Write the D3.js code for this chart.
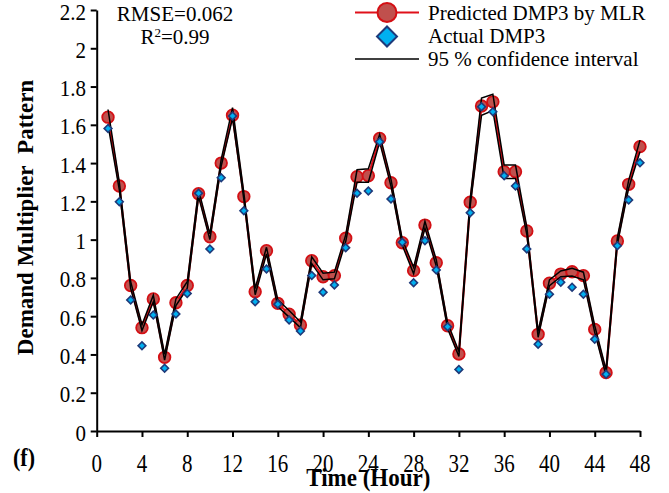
<!DOCTYPE html>
<html>
<head>
<meta charset="utf-8">
<script src="https://cdn.jsdelivr.net/npm/d3@7"></script>
<style>
  html, body { margin: 0; padding: 0; background: #fff; }
  svg { display: block; }
  text { font-family: "Liberation Serif", "Times New Roman", serif; fill: #000; }
</style>
</head>
<body>
<svg id="chart" width="669" height="493"></svg>
<script>
// ---- data ----
const hours = d3.range(1, 49);
const predicted = [1.64, 1.28, 0.76, 0.54, 0.69, 0.385, 0.67, 0.76, 1.24, 1.015, 1.40, 1.65,
  1.225, 0.728, 0.942, 0.667, 0.61, 0.554, 0.89, 0.806, 0.812, 1.007, 1.329, 1.334,
  1.529, 1.297, 0.984, 0.838, 1.076, 0.879, 0.55, 0.402, 1.195, 1.698, 1.72, 1.355,
  1.355, 1.045, 0.505, 0.772, 0.82, 0.832, 0.812, 0.531, 0.305, 0.993, 1.289, 1.486];
const actual = [1.581, 1.198, 0.684, 0.446, 0.606, 0.328, 0.611, 0.719, 1.242, 0.951, 1.324, 1.646,
  1.151, 0.676, 0.846, 0.663, 0.58, 0.522, 0.812, 0.725, 0.763, 0.958, 1.242, 1.254,
  1.512, 1.212, 0.986, 0.775, 0.994, 0.841, 0.545, 0.322, 1.141, 1.694, 1.668, 1.334,
  1.28, 0.951, 0.453, 0.714, 0.777, 0.751, 0.714, 0.479, 0.296, 0.968, 1.207, 1.402];
const ciUpper = [1.68, 1.30, 0.78, 0.555, 0.71, 0.40, 0.69, 0.78, 1.26, 1.03, 1.42, 1.69,
  1.245, 0.745, 0.96, 0.685, 0.63, 0.57, 0.91, 0.825, 0.83, 1.025, 1.365, 1.37,
  1.55, 1.315, 1.0, 0.855, 1.095, 0.895, 0.565, 0.415, 1.215, 1.74, 1.76, 1.39,
  1.39, 1.065, 0.52, 0.79, 0.836, 0.85, 0.83, 0.55, 0.32, 1.01, 1.31, 1.52];
const ciLower = [1.60, 1.26, 0.745, 0.525, 0.675, 0.37, 0.655, 0.745, 1.225, 1.0, 1.385, 1.635,
  1.21, 0.712, 0.925, 0.65, 0.595, 0.54, 0.875, 0.79, 0.795, 0.99, 1.30, 1.30,
  1.51, 1.28, 0.97, 0.822, 1.06, 0.862, 0.535, 0.39, 1.178, 1.65, 1.675, 1.32,
  1.32, 1.028, 0.49, 0.76, 0.806, 0.81, 0.79, 0.515, 0.29, 0.976, 1.27, 1.46];
const xTicks = [0, 4, 8, 12, 16, 20, 24, 28, 32, 36, 40, 44, 48];
const yTicks = [0, 0.2, 0.4, 0.6, 0.8, 1, 1.2, 1.4, 1.6, 1.8, 2, 2.2];
const seriesNames = ["Predicted DMP3 by MLR", "Actual DMP3", "95 % confidence interval"];
const statLines = ["RMSE=0.062", "R", "2", "=0.99"];

// ---- setup ----
const svg = d3.select("#chart");
const x = d3.scaleLinear().domain([0, 48]).range([96.7, 640]);
const y = d3.scaleLinear().domain([0, 2.2]).range([431, 10]);

function addText(g, tx, ty, str, size, weight, anchor, sy) {
  return g.append("text")
    .attr("transform", `translate(${tx},${ty}) scale(1,${sy || 1})`)
    .attr("text-anchor", anchor || "start")
    .style("font-size", size + "px")
    .style("font-weight", weight || "normal")
    .text(str);
}

// axes
const xAxis = svg.append("g").attr("transform", `translate(0,${y(0)})`)
  .call(d3.axisBottom(x).tickValues(xTicks).tickSize(6).tickSizeOuter(0).tickFormat(""));
const yAxis = svg.append("g").attr("transform", `translate(${x(0)},0)`)
  .call(d3.axisLeft(y).tickValues(yTicks).tickSize(6).tickSizeOuter(0).tickFormat(""));
[xAxis, yAxis].forEach(a => {
  a.select(".domain").attr("stroke", "#000").attr("stroke-width", 2);
  a.selectAll(".tick line").attr("stroke", "#000").attr("stroke-width", 2);
});

// tick labels
xTicks.forEach(t => addText(svg, x(t), 472, String(t), 21, "normal", "middle", 1.15));
yTicks.forEach(t => addText(svg, 86, y(t) + 9.5, d3.format("~g")(t), 21, "normal", "end", 1.12));

// titles
addText(svg, (x(0) + x(48)) / 2, 486, "Time (Hour)", 23, "bold", "middle", 1.08);
svg.append("text")
  .attr("transform", `translate(33,${(y(0) + y(2.2)) / 2 - 3}) rotate(-90)`)
  .attr("text-anchor", "middle")
  .style("font-size", "23px").style("font-weight", "bold")
  .text("Demand Multiplier\u00a0\u00a0Pattern");
addText(svg, 13, 466, "(f)", 22, "bold", "start", 1.1);

// stats text
addText(svg, 175, 21, statLines[0], 21, "normal", "middle");
const r2 = svg.append("text")
  .attr("transform", "translate(175,44)")
  .attr("text-anchor", "middle").style("font-size", "21px");
r2.append("tspan").text(statLines[1]);
r2.append("tspan").attr("dy", -7).style("font-size", "13px").text(statLines[2]);
r2.append("tspan").attr("dy", 7).text(statLines[3]);

// series
const lineGen = arr => d3.line().x((d, i) => x(hours[i])).y(d => y(d))(arr);

svg.append("path").attr("d", lineGen(predicted))
  .attr("fill", "none").attr("stroke", "#e0101a").attr("stroke-width", 2.2);

svg.append("g").selectAll("circle").data(predicted).join("circle")
  .attr("cx", (d, i) => x(hours[i])).attr("cy", d => y(d)).attr("r", 5.8)
  .attr("fill", "#c0504d").attr("stroke", "#d40f14").attr("stroke-width", 1.8);

[ciUpper, ciLower].forEach(arr => {
  svg.append("path").attr("d", lineGen(arr))
    .attr("fill", "none").attr("stroke", "#000").attr("stroke-width", 1.5)
    .attr("stroke-linejoin", "miter");
});

svg.append("g").selectAll("path").data(actual).join("path")
  .attr("d", d3.symbol().type(d3.symbolSquare).size(30)())
  .attr("transform", (d, i) => `translate(${x(hours[i])},${y(d)}) rotate(45)`)
  .attr("fill", "#00b0f0").attr("stroke", "#1f3a7a").attr("stroke-width", 1.6);

// legend
const lg = svg.append("g");
lg.append("line").attr("x1", 355).attr("x2", 419).attr("y1", 12.5).attr("y2", 12.5)
  .attr("stroke", "#e0101a").attr("stroke-width", 2);
lg.append("circle").attr("cx", 387).attr("cy", 12.5).attr("r", 9.5)
  .attr("fill", "#c0504d").attr("stroke", "#d40f14").attr("stroke-width", 2);
lg.append("path").attr("d", d3.symbol().type(d3.symbolSquare).size(200)())
  .attr("transform", "translate(387,36.5) rotate(45)")
  .attr("fill", "#00b0f0").attr("stroke", "#1f3a7a").attr("stroke-width", 2);
lg.append("line").attr("x1", 355).attr("x2", 419).attr("y1", 59).attr("y2", 59)
  .attr("stroke", "#000").attr("stroke-width", 1.6);
addText(lg, 428, 19.5, seriesNames[0], 21);
addText(lg, 428, 43, seriesNames[1], 21);
addText(lg, 428, 66, seriesNames[2], 21);
</script>
</body>
</html>
